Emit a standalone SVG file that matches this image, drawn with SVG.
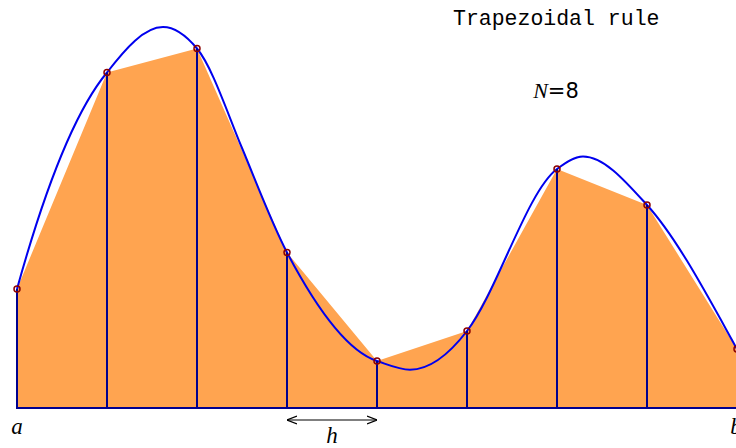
<svg xmlns="http://www.w3.org/2000/svg" width="736" height="448" viewBox="0 0 736 448">
<style>
.fill{fill:#ffa450;stroke:none}
.curve{fill:none;stroke:#0000ee;stroke-width:2}
.ord{stroke:#00008f;stroke-width:2}
.pt{fill:none;stroke:#8b0000;stroke-width:1.5}
.lbl{font-family:"Liberation Serif",serif;font-style:italic;fill:#000}
.title{font-family:"Liberation Mono",monospace;font-size:21.5px;fill:#000}
.dim{stroke:#000;stroke-width:1.2;fill:none}
</style>
<defs>
<marker id="ah" viewBox="0 0 10 10" refX="10" refY="5" markerWidth="10" markerHeight="10" markerUnits="userSpaceOnUse" orient="auto-start-reverse">
<path d="M0,1 L10,5 L0,9" fill="none" stroke="#000" stroke-width="1.2"/>
</marker>
</defs>
<rect width="736" height="448" fill="#fff"/>
<g id="area">
<polygon class="fill" points="17,408 17,289 107,72.5 197,48.5 287,252.5 377,361 467,331 557,169 647,205 737,349 737,408"/>
</g>
<g id="function-curve">
<path class="curve" d="M17,289 C47,181 77,108.5 107,72.5 C125.67,48.23 144.33,27 163,27 C174.33,27 185.67,34.9 197,48.5 C212,66.5 227,112 242,148 C257,184 272,224 287,252.5 C317,309.5 347,351.1 377,361 C388,364.6 399,369.7 410,369.7 C429,369.7 448,355.7 467,331 C497,292 527,191.5 557,169 C565.67,162.5 574.330,156.5 583,156.5 C604.33,156.5 625.67,181.5 647,205 C677,238 707,295 737,349"/>
</g>
<g id="ordinates">
<line class="ord" x1="17" y1="408" x2="17" y2="289"/>
<line class="ord" x1="107" y1="408" x2="107" y2="72.5"/>
<line class="ord" x1="197" y1="408" x2="197" y2="48.5"/>
<line class="ord" x1="287" y1="408" x2="287" y2="252.5"/>
<line class="ord" x1="377" y1="408" x2="377" y2="361"/>
<line class="ord" x1="467" y1="408" x2="467" y2="331"/>
<line class="ord" x1="557" y1="408" x2="557" y2="169"/>
<line class="ord" x1="647" y1="408" x2="647" y2="205"/>
<line class="ord" x1="16" y1="408" x2="737" y2="408"/>
</g>
<g id="nodes">
<circle class="pt" cx="17" cy="289" r="3"/>
<circle class="pt" cx="107" cy="72.5" r="3"/>
<circle class="pt" cx="197" cy="48.5" r="3"/>
<circle class="pt" cx="287" cy="252.5" r="3"/>
<circle class="pt" cx="377" cy="361" r="3"/>
<circle class="pt" cx="467" cy="331" r="3"/>
<circle class="pt" cx="557" cy="169" r="3"/>
<circle class="pt" cx="647" cy="205" r="3"/>
<circle class="pt" cx="737" cy="349" r="3"/>
</g>
<g id="connectors">
<line class="dim" x1="287" y1="420" x2="377" y2="420" marker-start="url(#ah)" marker-end="url(#ah)"/>
</g>
<g id="labels">
<text class="title" x="453" y="25">Trapezoidal rule</text>
<text x="556" y="98" text-anchor="middle" font-size="22" fill="#000"><tspan font-family="Liberation Serif, serif" font-style="italic">N</tspan><tspan font-family="DejaVu Sans, sans-serif" font-size="21">=8</tspan></text>
<text class="lbl" x="17" y="434" font-size="23" text-anchor="middle">a</text>
<text class="lbl" x="736" y="434" font-size="23" text-anchor="middle">b</text>
<text class="lbl" x="332" y="443" font-size="23" text-anchor="middle">h</text>
</g>
</svg>
